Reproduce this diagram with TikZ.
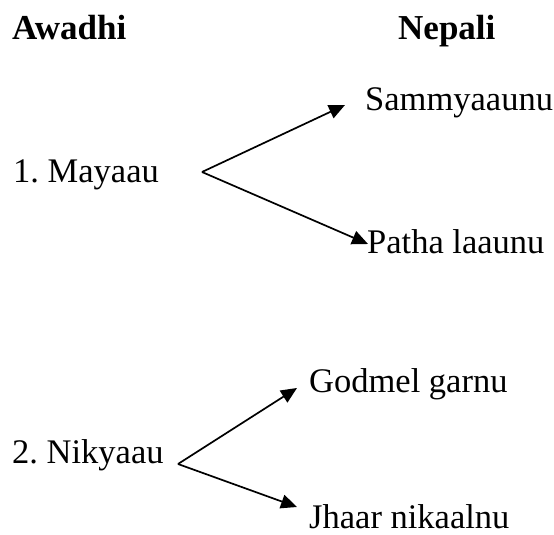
\documentclass[tikz,border=0pt]{standalone}
\usepackage{fontspec}
\setmainfont{Liberation Serif}
\usetikzlibrary{arrows.meta}

\begin{document}
\begin{tikzpicture}[x=1pt,y=-1pt]
			\tikzstyle{every node}+=[inner sep=0pt,anchor=base west,font=\fontsize{34.5}{40}\selectfont\frenchspacing]
			\tikzstyle{head}=[font=\fontsize{35}{40}\selectfont\bfseries]
			\tikzstyle{link}=[black,line width=1.7pt,-{Triangle[length=16pt,width=14pt]}]
			\useasboundingbox (0,0) rectangle (554,535);
			\node [head] (awadhi) at (12,40) {Awadhi};
			\node [head] (nepali) at (398,40) {Nepali};
			\node (mayaau) at (13,182) {1. Mayaau};
			\node (sammya) at (365,110) {Sammyaaunu};
			\node (patha) at (367,253) {Patha laaunu};
			\node (nikyaau) at (12,463) {2. Nikyaau};
			\node (godmel) at (309,392) {Godmel garnu};
			\node (jhaar) at (309,528) {Jhaar nikaalnu};
			\coordinate (fork1) at (202,172);
			\coordinate (fork2) at (178,464);
			\draw [link] (fork1) -- ([shift={(-20,-5)}]sammya.base west);
			\draw [link] (fork1) -- ([shift={(1,-9)}]patha.base west);
			\draw [link] (fork2) -- ([shift={(-12,-4)}]godmel.base west);
			\draw [link] (fork2) -- ([shift={(-12,-21)}]jhaar.base west);
\end{tikzpicture}
\end{document}
